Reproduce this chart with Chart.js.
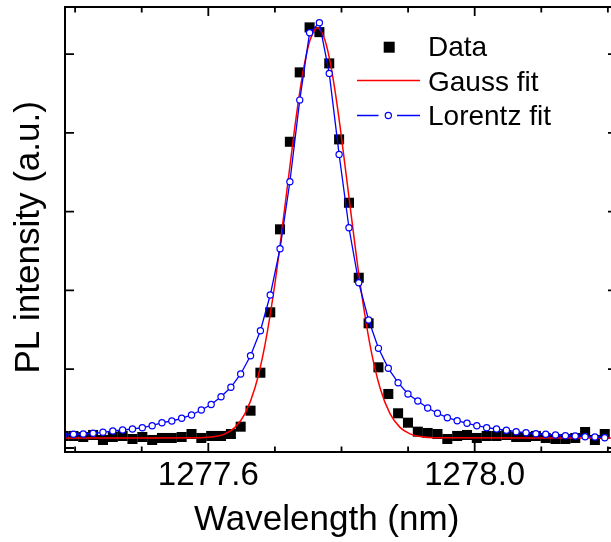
<!DOCTYPE html>
<html><head><meta charset="utf-8">
<script src="https://cdn.jsdelivr.net/npm/chart.js@4.4.1/dist/chart.umd.min.js"></script>
<style>
html,body{margin:0;padding:0;background:#fff;overflow:hidden}
#wrap{width:611px;height:542px;overflow:hidden;position:relative}
canvas{display:block}
</style>
</head><body><div id="wrap"><canvas id="c" width="640" height="542" style="width:640px;height:542px"></canvas></div>
<script>
const wavelength = [1277.3827,1277.3975,1277.4122,1277.4270,1277.4418,1277.4566,1277.4713,1277.4861,1277.5009,1277.5157,1277.5304,1277.5452,1277.5600,1277.5748,1277.5895,1277.6043,1277.6191,1277.6339,1277.6486,
  1277.6634,1277.6782,1277.6930,1277.7077,1277.7225,1277.7373,1277.7521,1277.7668,1277.7816,1277.7964,1277.8112,1277.8259,1277.8407,1277.8555,1277.8703,1277.8850,1277.8998,1277.9146,
  1277.9294,1277.9441,1277.9589,1277.9737,1277.9885,1278.0032,1278.0180,1278.0328,1278.0476,1278.0623,1278.0771,1278.0919,1278.1067,1278.1214,1278.1362,1278.1510,1278.1658,1278.1805,1278.1953];
const dataIntensity = [0.0305,0.0305,0.0279,0.0330,0.0203,0.0279,0.0305,0.0228,0.0279,0.0203,0.0254,0.0254,0.0279,0.0355,0.0254,0.0305,0.0305,0.0355,0.0541,
  0.0947,0.1911,0.3444,0.5551,0.7774,0.9536,1.0678,1.0558,0.9764,0.7835,0.6226,0.4322,0.3165,0.2048,0.1371,0.0881,0.0642,0.0414,
  0.0381,0.0355,0.0228,0.0305,0.0330,0.0254,0.0305,0.0305,0.0330,0.0279,0.0279,0.0305,0.0254,0.0228,0.0228,0.0254,0.0406,0.0203,0.0355];
const lorentzFit = [0.0330,0.0348,0.0355,0.0373,0.0398,0.0431,0.0457,0.0482,0.0515,0.0566,0.0642,0.0685,0.0754,0.0838,0.0964,0.1104,0.1302,0.1541,0.1878,
  0.2343,0.2977,0.3883,0.5058,0.6759,0.8832,1.0541,1.0794,0.9510,0.7454,0.5591,0.4195,0.3249,0.2530,0.2023,0.1657,0.1371,0.1193,
  0.1015,0.0881,0.0769,0.0693,0.0627,0.0566,0.0515,0.0482,0.0449,0.0414,0.0388,0.0363,0.0348,0.0330,0.0312,0.0305,0.0287,0.0279,0.0261];
const gaussWavelength = [1277.3848,1277.5125,1277.5875,1277.6101,1277.6251,1277.6401,1277.6551,1277.6701,1277.6851,1277.7002,1277.7152,1277.7302,1277.7377,1277.7452,1277.7527,1277.7602,1277.7640,
  1277.7677,1277.7752,1277.7827,1277.7902,1277.7977,1277.8128,1277.8278,1277.8428,1277.8578,1277.8728,1277.8878,1277.9029,1277.9179,1277.9404,1278.2137];
const gaussFit = [0.0254,0.0254,0.0260,0.0290,0.0358,0.0523,0.0871,0.1528,0.2619,0.4195,0.6152,0.8183,0.9079,0.9822,1.0350,1.0624,1.0660,
  1.0624,1.0350,0.9822,0.9079,0.8183,0.6152,0.4195,0.2619,0.1528,0.0871,0.0523,0.0358,0.0290,0.0260,0.0254];
const xTickValues = [1277.4,1277.5,1277.6,1277.7,1277.8,1277.9,1278.0,1278.1,1278.2];
const xLabelValues = [1277.6,1278.0];
const xTickLabels = ['1277.6','1278.0'];
const yTickValues = [0,0.2,0.4,0.6,0.8,1.0];
const xRange = [1277.3848,1278.2137];
const yRange = [-0.0102,1.1193];
const seriesNames = ['Data','Gauss fit','Lorentz fit'];
const xTitle = 'Wavelength (nm)';
const yTitle = 'PL intensity (a.u.)';

const FONT = '"Liberation Sans", Arial, Helvetica, sans-serif';
const toPts = (xs, ys) => xs.map((x, i) => ({x, y: ys[i]}));

const framePlugin = {
  id: 'frame',
  afterDatasetsDraw(chart) {
    const {ctx, chartArea: a, scales: {x, y}} = chart;
    ctx.save();
    ctx.strokeStyle = '#000';
    ctx.lineWidth = 2;
    ctx.beginPath();
    ctx.rect(a.left, a.top, a.right - a.left, a.bottom - a.top);
    ctx.stroke();
    ctx.lineWidth = 1.8;
    ctx.beginPath();
    xTickValues.forEach(v => {
      const px = x.getPixelForValue(v);
      const major = xLabelValues.some(m => Math.abs(m - v) < 1e-6);
      const len = major ? 9 : 5.5;
      ctx.moveTo(px, a.bottom); ctx.lineTo(px, a.bottom - len);
      ctx.moveTo(px, a.top); ctx.lineTo(px, a.top + len);
    });
    yTickValues.forEach(v => {
      const py = y.getPixelForValue(v);
      ctx.moveTo(a.left, py); ctx.lineTo(a.left + 9, py);
      ctx.moveTo(a.right, py); ctx.lineTo(a.right - 9, py);
    });
    ctx.stroke();

    // legend
    const byLabel = name => chart.data.datasets.find(d => d.label === name);
    const dData = byLabel(seriesNames[0]), dGauss = byLabel(seriesNames[1]), dLor = byLabel(seriesNames[2]);
    ctx.font = '28px ' + FONT;
    ctx.textAlign = 'left';
    ctx.textBaseline = 'alphabetic';
    // Data
    ctx.fillStyle = dData.backgroundColor;
    ctx.fillRect(389.2 - 5.5, 47.2 - 5.5, 11, 11);
    ctx.fillStyle = '#000';
    ctx.fillText(seriesNames[0], 428, 55.5);
    // Gauss
    ctx.strokeStyle = dGauss.borderColor;
    ctx.lineWidth = dGauss.borderWidth;
    ctx.beginPath(); ctx.moveTo(357, 80.5); ctx.lineTo(420, 80.5); ctx.stroke();
    ctx.fillText(seriesNames[1], 428, 91);
    // Lorentz
    ctx.strokeStyle = dLor.borderColor;
    ctx.lineWidth = dLor.borderWidth;
    ctx.beginPath(); ctx.moveTo(357, 115.5); ctx.lineTo(378.5, 115.5);
    ctx.moveTo(397, 115.5); ctx.lineTo(420, 115.5); ctx.stroke();
    ctx.fillStyle = '#fff';
    ctx.lineWidth = dLor.pointBorderWidth;
    ctx.beginPath(); ctx.arc(388.3, 115.5, dLor.pointRadius, 0, Math.PI * 2); ctx.fill(); ctx.stroke();
    ctx.fillStyle = '#000';
    ctx.fillText(seriesNames[2], 428, 124.5);

    // axis titles
    ctx.font = '35px ' + FONT;
    ctx.textAlign = 'center';
    ctx.fillText(xTitle, 326.7, 530);
    ctx.translate(39.3, 237.3);
    ctx.rotate(-Math.PI / 2);
    ctx.fillText(yTitle, 0, 0);
    ctx.restore();
  }
};

new Chart(document.getElementById('c'), {
  type: 'scatter',
  data: {
    datasets: [
      {label: seriesNames[2], data: toPts(wavelength, lorentzFit), showLine: true, borderColor: '#0000ff', borderWidth: 1.3,
       pointRadius: 3.1, pointBorderWidth: 1.2, pointBackgroundColor: '#ffffff', pointBorderColor: '#0000ff', tension: 0, order: 1, clip: 0},
      {label: seriesNames[1], data: toPts(gaussWavelength, gaussFit), showLine: true, borderColor: '#ff0000', borderWidth: 1.5,
       pointRadius: 0, cubicInterpolationMode: 'monotone', order: 2, clip: 0},
      {label: seriesNames[0], data: toPts(wavelength, dataIntensity), showLine: false, pointStyle: 'rect', pointRadius: 7.1,
       pointBorderWidth: 0, backgroundColor: '#000000', borderColor: '#000000', order: 3, clip: 0}
    ]
  },
  options: {
    responsive: false,
    animation: false,
    devicePixelRatio: 1,
    layout: {padding: {left: 65, top: 7, right: 23, bottom: 0}},
    plugins: {legend: {display: false}, tooltip: {enabled: false}},
    scales: {
      x: {
        type: 'linear', min: xRange[0], max: xRange[1],
        grid: {display: false, drawTicks: false},
        border: {display: false},
        afterBuildTicks: s => { s.ticks = xTickValues.map(v => ({value: v})); },
        afterFit: s => { s.height = 90; },
        ticks: {
          autoSkip: false, maxRotation: 0, padding: 4, color: '#000',
          font: {family: FONT, size: 33},
          callback: v => { const i = xLabelValues.findIndex(m => Math.abs(m - v) < 1e-6); return i >= 0 ? xTickLabels[i] : ''; }
        }
      },
      y: {type: 'linear', min: yRange[0], max: yRange[1], display: false}
    }
  },
  plugins: [framePlugin]
});
</script>
</body></html>
